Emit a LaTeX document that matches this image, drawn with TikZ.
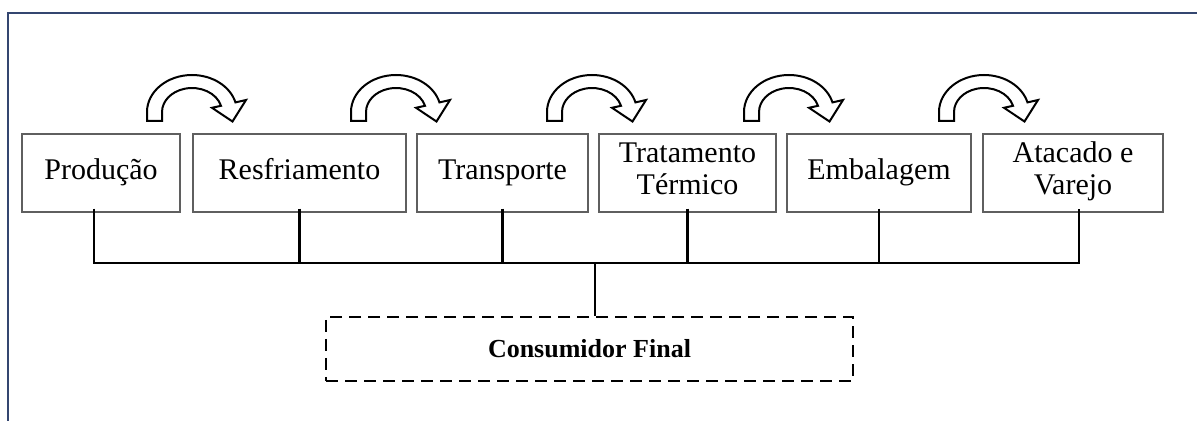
\documentclass[tikz,border=0pt]{standalone}
\usepackage{fontspec}
\setmainfont{Liberation Serif}
\definecolor{moldura}{RGB}{52,70,112}
\definecolor{bordacaixa}{RGB}{95,95,95}
\tikzset{every picture/.style={line width=0.5pt}}
\tikzset{
  etapa/.style={draw=bordacaixa, line width=0.6pt, minimum height=39pt, inner sep=0pt, align=center, font=\fontsize{15}{16}\selectfont, execute at begin node=\strut, execute at end node=\strut},
  final/.style={draw=black, line width=1pt, dash pattern=on 6pt off 3.5pt, minimum height=32pt, inner sep=0pt, font=\fontsize{13}{15}\selectfont\bfseries},
  ligacao/.style={draw=black, line width=1.2pt},
  seta/.style={draw=black, fill=white, line width=1pt}
}
% curved block arrow, arc centre at (#1,#2)
\newcommand{\voltaseta}[2]{%
  \draw[seta, shift={(#1,#2)}] (-45,9) -- (-45,0) arc[start angle=180, end angle=345, x radius=45, y radius=37] -- (54,-12) -- (40.5,9.5) -- (20,-4.2) -- (29,-6.2) arc[start angle=345, end angle=180, x radius=30, y radius=24] -- (-30,9) -- cycle;
}

\begin{document}
\begin{tikzpicture}[x=0.5pt,y=0.5pt,yscale=-1]
	\useasboundingbox (0,0) rectangle (1197,421);

	%Frame
	\draw[moldura, line width=1pt] (8,421) -- (8,13) -- (1197,13);

	%Curved arrows
	\foreach \cx in {192,396,592,789,984}
		\voltaseta{\cx}{112};

	% Text Node
	\node[etapa, minimum width=79pt] (prod) at (101,173) {Produção};
	% Text Node
	\node[etapa, minimum width=106.5pt] (resf) at (299.5,173) {Resfriamento};
	% Text Node
	\node[etapa, minimum width=85.5pt] (transp) at (502.5,173) {Transporte};
	% Text Node
	\node[etapa, minimum width=88.5pt] (trat) at (687.5,173) {Tratamento\\Térmico};
	% Text Node
	\node[etapa, minimum width=92pt] (emb) at (879,173) {Embalagem};
	% Text Node
	\node[etapa, minimum width=90pt] (atac) at (1073,173) {Atacado e\\Varejo};
	% Text Node
	\node[final, minimum width=263.5pt] (cons) at (589.5,349) {Consumidor Final};

	%Connectors
	\coordinate (barra) at (595,263);
	\draw[ligacao] ([xshift=-3.5pt,yshift=-2pt]prod.south) |- (barra) -| ([xshift=3pt,yshift=-2pt]atac.south);
	\foreach \n in {resf,transp,trat,emb}
		\draw[ligacao] ([yshift=-2pt]\n.south) -- (\n.south |- barra);
	\draw[ligacao] (barra) -- (barra |- cons.north);

\end{tikzpicture}
\end{document}
